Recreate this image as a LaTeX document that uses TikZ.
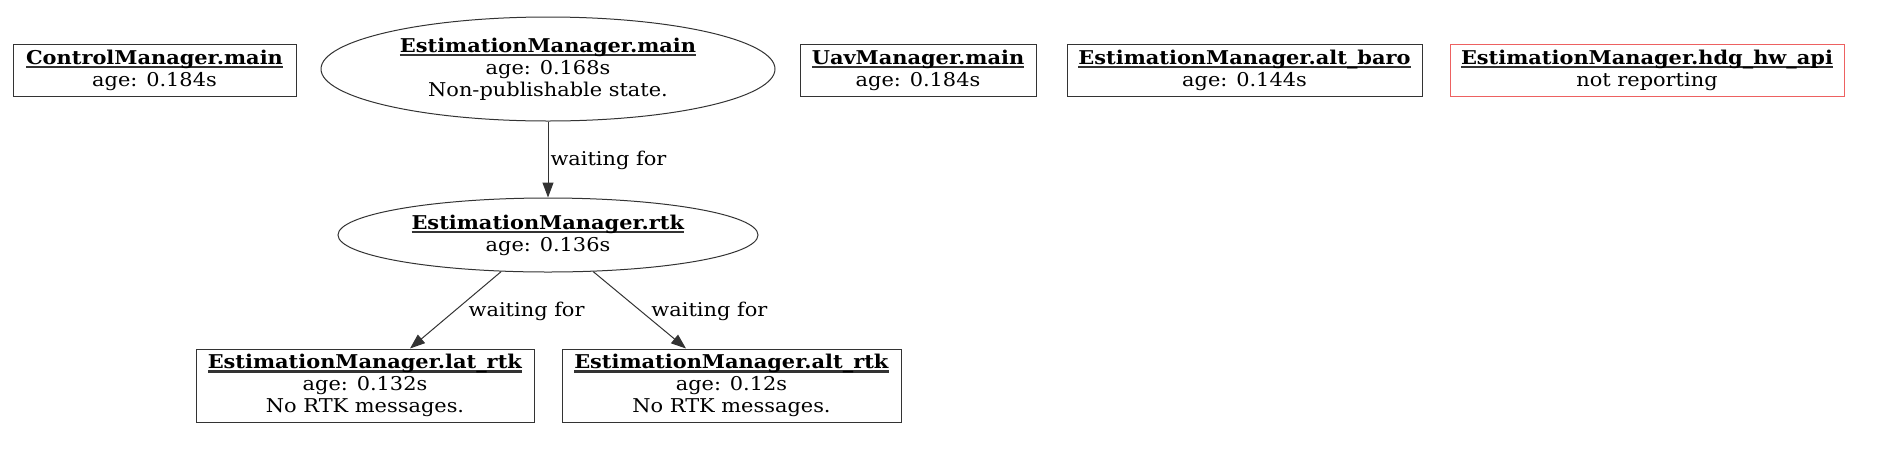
\documentclass[tikz,border=0pt]{standalone}
\usepackage{fontspec}
\setmainfont{DejaVu Serif}[FakeStretch=1.1]
\usetikzlibrary{arrows.meta,shapes.geometric}
\definecolor{edgegray}{rgb}{0.2,0.2,0.2}
\definecolor{warnred}{rgb}{0.93,0.38,0.38}
\tikzset{
  base/.style={font=\fontsize{19}{22}\selectfont, align=center, inner sep=0pt, line width=1pt, draw=edgegray},
  box/.style={base, rectangle, minimum height=52pt},
  oval/.style={base, ellipse},
  conn/.style={line width=1pt, draw=edgegray, -{Triangle[length=15pt,width=11pt]}},
  lbl/.style={font=\fontsize{19}{22}\selectfont, anchor=west, inner sep=0pt}
}
\newcommand{\ttl}[1]{\setbox0\hbox{\textbf{#1}}\makebox[0pt][l]{\color{edgegray}\rule[-4pt]{\wd0}{2.2pt}}\copy0}
\begin{document}
\begin{tikzpicture}[x=1pt,y=-1pt]
\useasboundingbox (0,0) rectangle (1879,451);
\node[box, minimum width=283pt] (cm) at (154.5,70) {\ttl{ControlManager.main}\\age: 0.184s};
\node[oval, minimum width=454pt, minimum height=104pt] (emain) at (548,69) {\ttl{EstimationManager.main}\\age: 0.168s\\Non-publishable state.};
\node[box, minimum width=236pt] (uav) at (918,70) {\ttl{UavManager.main}\\age: 0.184s};
\node[box, minimum width=355pt] (baro) at (1244.5,70) {\ttl{EstimationManager.alt\_baro}\\age: 0.144s};
\node[box, minimum width=394pt, draw=warnred] (hdg) at (1647,70) {\ttl{EstimationManager.hdg\_hw\_api}\\not reporting};
\node[oval, minimum width=420pt, minimum height=74pt] (rtk) at (548,235) {\ttl{EstimationManager.rtk}\\age: 0.136s};
\node[box, minimum width=338pt, minimum height=73pt] (lat) at (365,385.5) {\ttl{EstimationManager.lat\_rtk}\\age: 0.132s\\No RTK messages.};
\node[box, minimum width=339pt, minimum height=73pt] (alt) at (731.5,385.5) {\ttl{EstimationManager.alt\_rtk}\\age: 0.12s\\No RTK messages.};
\draw[conn] (emain.south) -- (rtk.north) node[lbl, pos=0.45, xshift=2pt, yshift=-5pt] (l1) {waiting for};
\draw[conn] (rtk.218.7) -- ([xshift=45pt]lat.north) node[lbl, pos=0.45, xshift=8pt, yshift=-5pt] (l2) {waiting for};
\draw[conn] (rtk.321.5) -- ([xshift=-45.5pt]alt.north) node[lbl, pos=0.45, xshift=16pt, yshift=-5pt] (l3) {waiting for};
\end{tikzpicture}
\end{document}
